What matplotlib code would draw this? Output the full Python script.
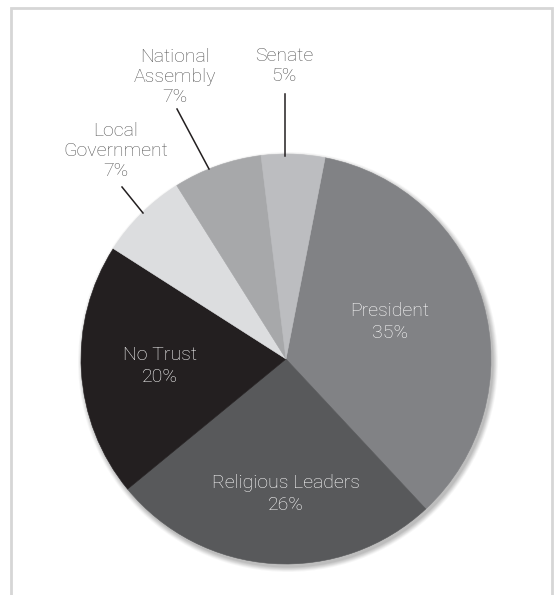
import matplotlib
matplotlib.use("Agg")
import matplotlib.pyplot as plt
from matplotlib.patches import Circle

# ---- data ----
categories = ["President", "Religious Leaders", "No Trust", "Local\nGovernment",
              "National\nAssembly", "Senate"]
values = [35, 26, 20, 7, 7, 5]
colors = ["#818285", "#58595b", "#231f20", "#dcdddf", "#a7a8aa", "#bcbdc0"]

W, H = 554, 595
fig = plt.figure(figsize=(W / 100, H / 100), dpi=100)
ax = fig.add_axes([0, 0, 1, 1])

def Y(y):
    return H - y

cx, cy, R = 286, Y(359), 205

# frame (open at bottom)
ax.plot([11, 11, 552, 552], [Y(600), Y(8), Y(8), Y(600)], color="#d6d6d6",
        lw=2.0, solid_joinstyle="miter", zorder=1)

# soft drop shadow
for i, a in enumerate([0.05, 0.05, 0.05, 0.05, 0.04, 0.03]):
    ax.add_patch(Circle((cx + 2, cy - 3), R + 0.5 + i * 0.9, color="#000000",
                        alpha=a, lw=0, zorder=2))

wedges, _ = ax.pie(values, colors=colors, startangle=79, counterclock=False,
                   center=(cx, cy), radius=R, frame=True,
                   wedgeprops=dict(linewidth=0))
for w, c in zip(wedges, colors):
    w.set_zorder(3)
    w.set_edgecolor(c)
    w.set_linewidth(0.4)
ax.set_xlim(0, W)
ax.set_ylim(0, H)
ax.set_aspect("auto")
ax.axis("off")

font = dict(family=["Roboto", "DejaVu Sans"], weight="light", fontsize=14)

# inside labels (white)
inside_pos = {0: (390, 322), 1: (286, 494), 2: (160, 366)}
for i, (x, y) in inside_pos.items():
    ax.text(x, Y(y), f"{categories[i]}\n{values[i]}%", color="white",
            ha="center", va="center", linespacing=1.35, zorder=5, **font)

# outside labels with leader lines
outside = {5: ((284, 66), (285, 94), (285, 156)),
           4: ((175, 77), (177, 109), (209, 169)),
           3: ((116, 151), (122, 187), (143, 213))}
for i, ((tx, ty), (lx, ly), (ex, ey)) in outside.items():
    ax.text(tx, Y(ty), f"{categories[i]}\n{values[i]}%", color="#555555",
            ha="center", va="center", linespacing=1.15, zorder=5, **font)
    ax.plot([lx, ex], [Y(ly), Y(ey)], color="#231f20", lw=1.1, zorder=4)

fig.savefig("out.png", dpi=100, facecolor="white")
